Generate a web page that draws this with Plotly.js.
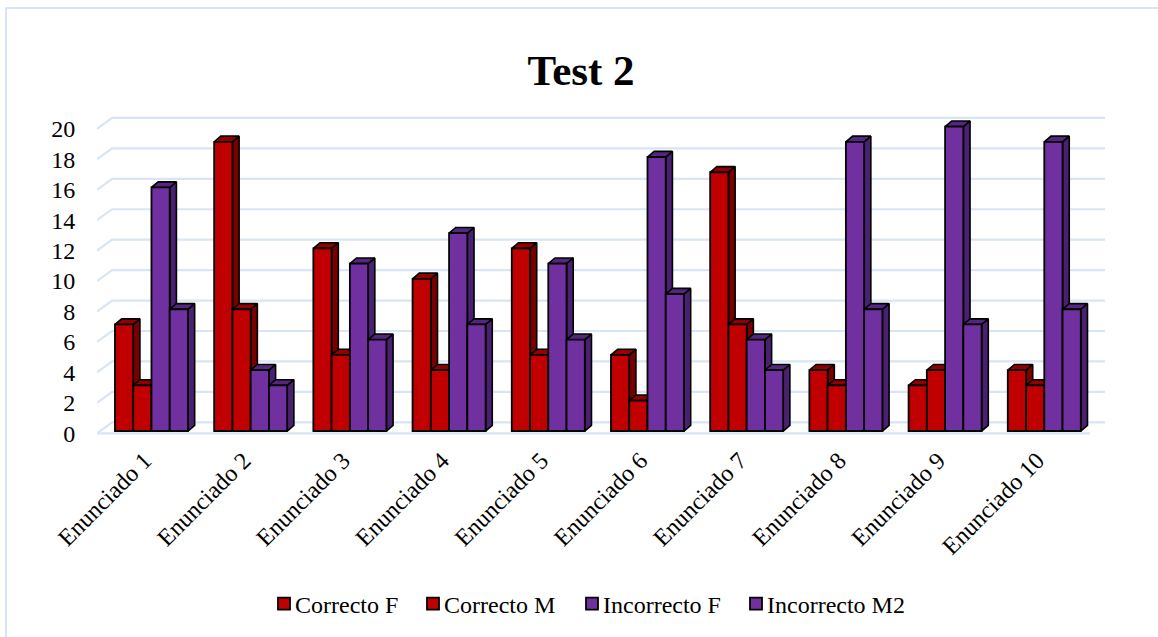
<!DOCTYPE html>
<html><head><meta charset="utf-8">
<script src="https://cdn.plot.ly/plotly-3.0.1.min.js"></script>
<style>
html,body{margin:0;padding:0;background:#fff;overflow:hidden}
#frame{position:absolute;left:5px;top:7px;width:1153px;height:630px;border-left:2px solid #D8E5F4;border-top:2px solid #D8E5F4;box-sizing:border-box}
#chart{position:absolute;left:0;top:0;width:1158px;height:637px}
</style></head><body>
<div id="frame"></div><div id="chart"></div>
<script>
const categories = ['Enunciado 1','Enunciado 2','Enunciado 3','Enunciado 4','Enunciado 5','Enunciado 6','Enunciado 7','Enunciado 8','Enunciado 9','Enunciado 10'];
const correctoF    = [7,19,12,10,12,5,17,4,3,4];
const correctoM    = [3,8,5,4,5,2,7,3,4,3];
const incorrectoF  = [16,4,11,13,11,18,6,19,20,19];
const incorrectoM2 = [8,3,6,7,6,9,4,8,7,8];
const yTicks = [0,2,4,6,8,10,12,14,16,18,20];

const seriesNames = ['Correcto F','Correcto M','Incorrecto F','Incorrecto M2'];
const seriesVals = [correctoF,correctoM,incorrectoF,incorrectoM2];
const front = ['#C00000','#C00000','#7030A0','#7030A0'];
const side  = ['#7A0000','#7A0000','#4A2070','#4A2070'];
const topC  = ['#920000','#920000','#55267F','#55267F'];
const legendW = [104,114,119,145];

const FONT = '"Liberation Serif","Times New Roman",serif';
const barW = 0.184, dx = 0.0675, dy = 0.37;
const xIdx = categories.map((_,i)=>i);
const xLeftEdge = -0.549, xBack = -0.397, xRight = 9.612;
const xRange = [xLeftEdge,xRight], yRange = [-0.524,20.76];
const backOff = 0.57, frontOff = -0.15, labelShift = -0.07;

const traces = [];
const gx=[],gy=[];
yTicks.forEach(v=>{ gx.push(xLeftEdge,xBack,xRight,null); gy.push(v+frontOff,v+backOff,v+backOff,null); });
gx.push(xLeftEdge,9.46,null); gy.push(frontOff,frontOff,null);
traces.push({type:'scatter',mode:'lines',x:gx,y:gy,xaxis:'x',yaxis:'y',line:{color:'#D8E5F4',width:2.2},hoverinfo:'skip',showlegend:false,cliponaxis:false});

function axId(n){return n===0?'':String(n+1);}
seriesVals.forEach((vals,k)=>{
  const sx=[],sy=[],tx=[],ty=[];
  vals.forEach((v,i)=>{
    const l=i-2*barW+k*barW, r=l+barW;
    sx.push(r,r+dx,r+dx,r,r,null); sy.push(0,dy,v+dy,v,0,null);
    tx.push(l,l+dx,r+dx,r,l,null); ty.push(v,v+dy,v+dy,v,v,null);
  });
  const xa='x'+axId(k), ya='y'+axId(k);
  traces.push({type:'scatter',mode:'lines',x:sx,y:sy,xaxis:xa,yaxis:ya,fill:'toself',fillcolor:side[k],line:{color:'#000',width:1.6},hoverinfo:'skip',showlegend:false});
  traces.push({type:'scatter',mode:'lines',x:tx,y:ty,xaxis:xa,yaxis:ya,fill:'toself',fillcolor:topC[k],line:{color:'#000',width:1.6},hoverinfo:'skip',showlegend:false});
  traces.push({type:'bar',name:seriesNames[k],x:xIdx,y:vals,width:barW,offset:-2*barW+k*barW,
    xaxis:'x'+axId(k+1),yaxis:'y'+axId(k+1),marker:{color:front[k],line:{color:'#000',width:1.8}},legendwidth:legendW[k]});
});

const layout = {
  width:1158,height:637,paper_bgcolor:'rgba(0,0,0,0)',plot_bgcolor:'rgba(0,0,0,0)',
  margin:{l:97,r:53,t:115,b:197,pad:0},
  font:{family:FONT,color:'#000',size:24},
  title:{text:'<b>Test 2</b>',font:{family:FONT,size:43,color:'#000'},x:581/1158,xanchor:'center',y:1-69.5/637,yanchor:'middle'},
  barmode:'overlay',
  showlegend:true,
  legend:{orientation:'h',x:(255-97)/1008,xanchor:'left',y:-0.505,yanchor:'middle',font:{family:FONT,size:24,color:'#000'},bgcolor:'rgba(0,0,0,0)'},
  xaxis:{range:xRange,tickmode:'array',tickvals:xIdx.map(i=>i+labelShift),ticktext:categories,tickangle:-45,ticklen:0,ticklabelstandoff:-3,tickcolor:'rgba(0,0,0,0)',showgrid:false,zeroline:false,showline:false,tickfont:{family:FONT,size:24,color:'#000'},fixedrange:true},
  yaxis:{range:yRange,tickmode:'array',tickvals:yTicks.map(v=>v+frontOff),ticktext:yTicks.map(String),ticklen:16,tickcolor:'rgba(0,0,0,0)',showgrid:false,zeroline:false,showline:false,tickfont:{family:FONT,size:24,color:'#000'},fixedrange:true}
};
for(let n=1;n<=4;n++){
  layout['xaxis'+(n+1)]={range:xRange,overlaying:'x',visible:false,fixedrange:true};
  layout['yaxis'+(n+1)]={range:yRange,overlaying:'y',visible:false,fixedrange:true};
}
Plotly.newPlot('chart',traces,layout,{displayModeBar:false,staticPlot:true}).then(()=>{
  document.querySelectorAll('#chart .legend .traces .legendsymbols').forEach(s=>s.setAttribute('transform','translate(9,0)'));
});
</script></body></html>
